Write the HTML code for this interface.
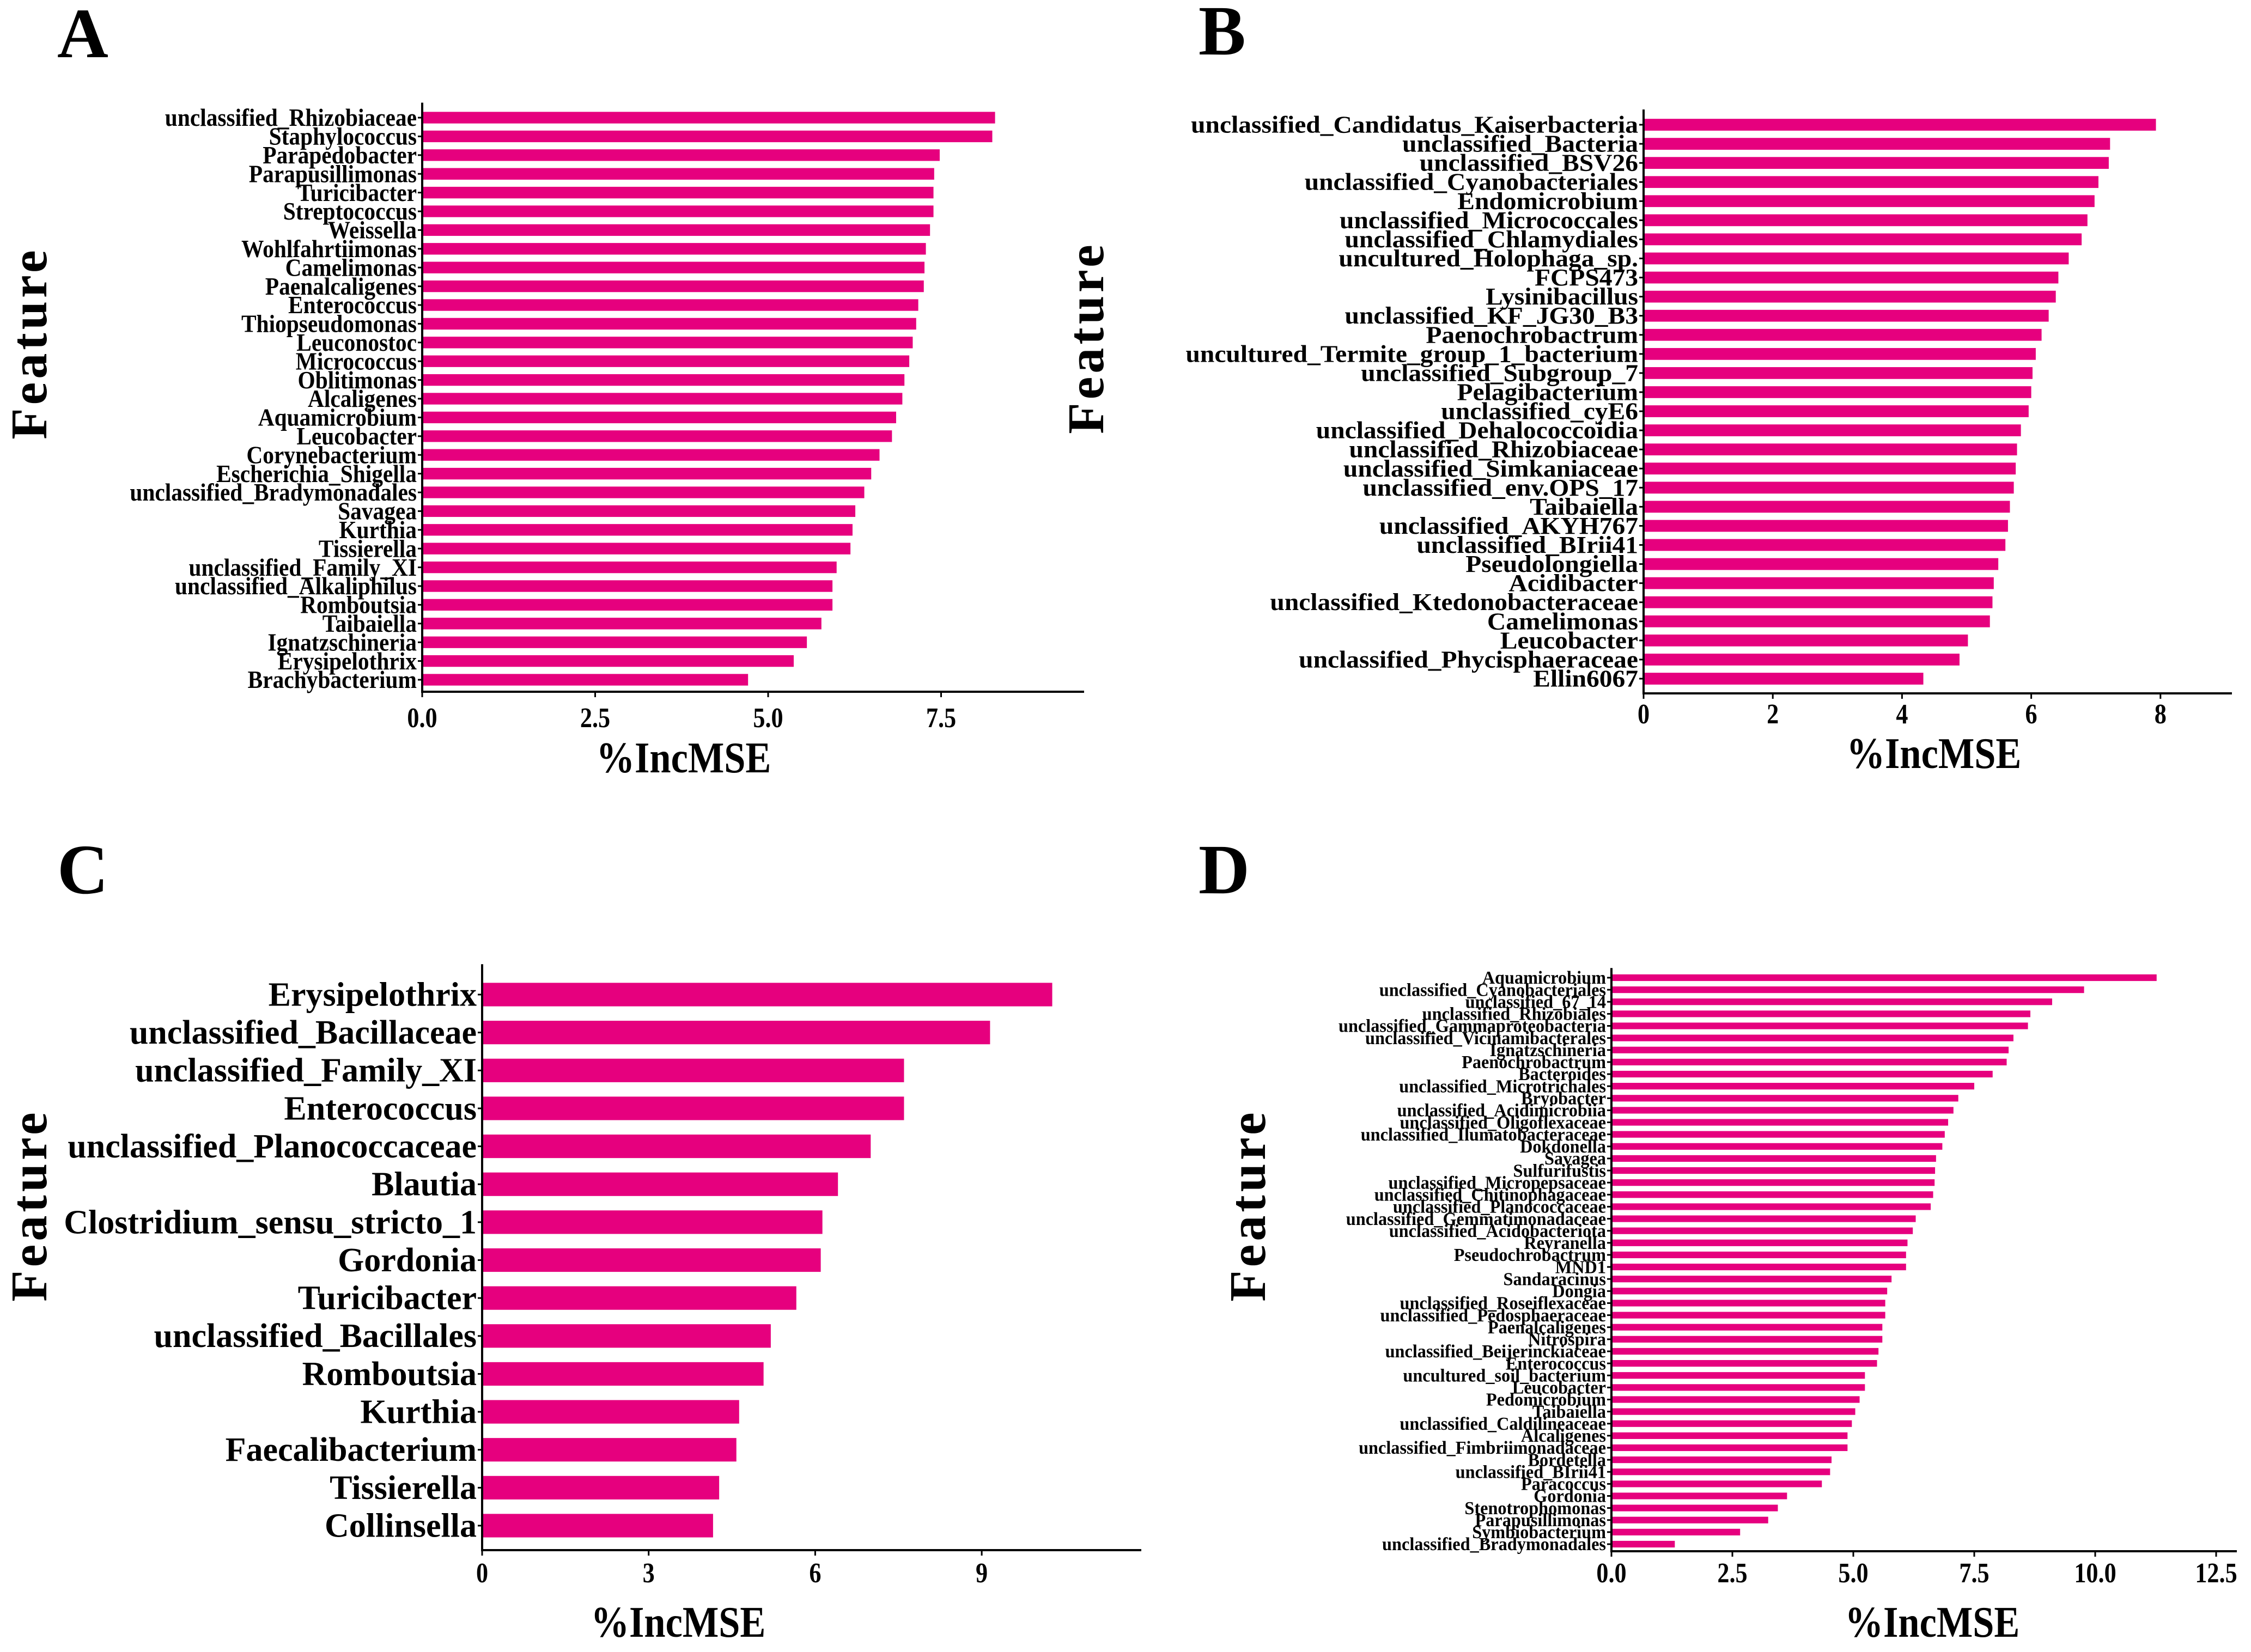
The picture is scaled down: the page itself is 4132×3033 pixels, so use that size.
<!DOCTYPE html>
<html><head><meta charset="utf-8"><style>
html,body{margin:0;padding:0;background:#fff}
svg{display:block}
text{font-family:"Liberation Serif",serif;font-weight:bold;fill:#000}
</style></head><body>
<svg id="s" width="4132" height="3033" viewBox="0 0 4132 3033" xmlns="http://www.w3.org/2000/svg"></svg>
<script>
const labelsA=["unclassified_Rhizobiaceae","Staphylococcus","Parapedobacter","Parapusillimonas","Turicibacter","Streptococcus","Weissella","Wohlfahrtiimonas","Camelimonas","Paenalcaligenes","Enterococcus","Thiopseudomonas","Leuconostoc","Micrococcus","Oblitimonas","Alcaligenes","Aquamicrobium","Leucobacter","Corynebacterium","Escherichia_Shigella","unclassified_Bradymonadales","Savagea","Kurthia","Tissierella","unclassified_Family_XI","unclassified_Alkaliphilus","Romboutsia","Taibaiella","Ignatzschineria","Erysipelothrix","Brachybacterium"];
const valuesA=[8.28,8.24,7.48,7.4,7.39,7.39,7.34,7.28,7.26,7.25,7.17,7.14,7.09,7.04,6.97,6.94,6.85,6.79,6.61,6.49,6.39,6.26,6.22,6.19,5.99,5.93,5.93,5.77,5.56,5.37,4.71];
const ticksA=[0,2.5,5,7.5];
const tickLabelsA=["0.0","2.5","5.0","7.5"];
const labelsB=["unclassified_Candidatus_Kaiserbacteria","unclassified_Bacteria","unclassified_BSV26","unclassified_Cyanobacteriales","Endomicrobium","unclassified_Micrococcales","unclassified_Chlamydiales","uncultured_Holophaga_sp.","FCPS473","Lysinibacillus","unclassified_KF_JG30_B3","Paenochrobactrum","uncultured_Termite_group_1_bacterium","unclassified_Subgroup_7","Pelagibacterium","unclassified_cyE6","unclassified_Dehalococcoidia","unclassified_Rhizobiaceae","unclassified_Simkaniaceae","unclassified_env.OPS_17","Taibaiella","unclassified_AKYH767","unclassified_BIrii41","Pseudolongiella","Acidibacter","unclassified_Ktedonobacteraceae","Camelimonas","Leucobacter","unclassified_Phycisphaeraceae","Ellin6067"];
const valuesB=[7.93,7.22,7.2,7.04,6.98,6.87,6.78,6.58,6.42,6.38,6.27,6.16,6.07,6.02,6.0,5.96,5.84,5.78,5.76,5.73,5.67,5.64,5.6,5.49,5.42,5.4,5.36,5.02,4.89,4.33];
const ticksB=[0,2,4,6,8];
const tickLabelsB=["0","2","4","6","8"];
const labelsC=["Erysipelothrix","unclassified_Bacillaceae","unclassified_Family_XI","Enterococcus","unclassified_Planococcaceae","Blautia","Clostridium_sensu_stricto_1","Gordonia","Turicibacter","unclassified_Bacillales","Romboutsia","Kurthia","Faecalibacterium","Tissierella","Collinsella"];
const valuesC=[10.27,9.15,7.6,7.6,7.0,6.41,6.13,6.1,5.66,5.2,5.07,4.63,4.58,4.27,4.16];
const ticksC=[0,3,6,9];
const tickLabelsC=["0","3","6","9"];
const labelsD=["Aquamicrobium","unclassified_Cyanobacteriales","unclassified_67_14","unclassified_Rhizobiales","unclassified_Gammaproteobacteria","unclassified_Vicinamibacterales","Ignatzschineria","Paenochrobactrum","Bacteroides","unclassified_Microtrichales","Bryobacter","unclassified_Acidimicrobiia","unclassified_Oligoflexaceae","unclassified_Ilumatobacteraceae","Dokdonella","Savagea","Sulfurifustis","unclassified_Micropepsaceae","unclassified_Chitinophagaceae","unclassified_Planococcaceae","unclassified_Gemmatimonadaceae","unclassified_Acidobacteriota","Reyranella","Pseudochrobactrum","MND1","Sandaracinus","Dongia","unclassified_Roseiflexaceae","unclassified_Pedosphaeraceae","Paenalcaligenes","Nitrospira","unclassified_Beijerinckiaceae","Enterococcus","uncultured_soil_bacterium","Leucobacter","Pedomicrobium","Taibaiella","unclassified_Caldilineaceae","Alcaligenes","unclassified_Fimbriimonadaceae","Bordetella","unclassified_BIrii41","Paracoccus","Gordonia","Stenotrophomonas","Parapusillimonas","Symbiobacterium","unclassified_Bradymonadales"];
const valuesD=[11.27,9.77,9.11,8.66,8.61,8.31,8.21,8.17,7.88,7.5,7.17,7.07,6.96,6.89,6.84,6.71,6.69,6.68,6.65,6.6,6.29,6.23,6.12,6.09,6.09,5.79,5.7,5.66,5.66,5.6,5.6,5.52,5.49,5.24,5.24,5.13,5.04,4.97,4.88,4.88,4.55,4.52,4.35,3.63,3.44,3.24,2.66,1.31];
const ticksD=[0,2.5,5,7.5,10,12.5];
const tickLabelsD=["0.0","2.5","5.0","7.5","10.0","12.5"];

const NS="http://www.w3.org/2000/svg";
const svg=document.getElementById('s');
function mk(tag,attrs,parent,txt){const e=document.createElementNS(NS,tag);for(const k in attrs)e.setAttribute(k,attrs[k]);if(txt!==undefined)e.textContent=txt;(parent||svg).appendChild(e);return e;}

function panel(id,labels,values,ticks,tickLabels,c){
  const g=mk('g',{});
  
  
  const x=v=>c.x0+v*c.unit;
  const n=labels.length;
  const y=i=>c.y1+(c.y2-c.y1)*i/(n-1);
  const step=(c.y2-c.y1)/(n-1);
  const bh=step*c.bf;
  const L=mk('text',{x:c.lx,y:c.ly,'font-size':c.lf},g,id);
  
  
  for(let i=0;i<n;i++){
    const r=mk('rect',{x:x(0),y:y(i)-bh/2,width:Math.max(0,x(values[i])-x(0)),height:bh,fill:'#e6007e'},g);
    
    
    mk('line',{x1:x(0)-8,x2:x(0),y1:y(i),y2:y(i),stroke:'#000','stroke-width':3},g);
    const t=mk('text',{'text-anchor':'end','font-size':c.fs,transform:`translate(${x(0)-10},${y(i)+c.fs*0.33}) scale(${c.sx},1)`},g,labels[i]);
    
    
  }
  const ya=mk('line',{x1:x(0),x2:x(0),y1:c.y1-step*0.8,y2:c.ay,stroke:'#000','stroke-width':4},g);
  
  
  const xa=mk('line',{x1:x(0)-2,x2:c.xe,y1:c.ay,y2:c.ay,stroke:'#000','stroke-width':4},g);
  
  
  ticks.forEach((v,i)=>{
    mk('line',{x1:x(v),x2:x(v),y1:c.ay,y2:c.ay+10,stroke:'#000','stroke-width':3},g);
    const t=mk('text',{'text-anchor':'middle','font-size':c.tf,transform:`translate(${x(v)},${c.ty}) scale(0.85,1)`},g,tickLabels[i]);
    
    
  });
  const xt=mk('text',{'text-anchor':'middle','font-size':80,transform:`translate(${c.tx},${c.tyy}) scale(0.88,1)`},g,'%IncMSE');
  
  
  const ft=mk('text',{'text-anchor':'middle','font-size':94,'letter-spacing':6,transform:`translate(${c.fx},${c.fy}) rotate(-90)`},g,'Feature');
  
  
}
panel('A',labelsA,valuesA,ticksA,tickLabelsA,{x0:775,unit:127,y1:216,y2:1248,ay:1270,xe:1990,bf:0.62,fs:46,sx:0.9,tf:52,ty:1335,tx:1255,tyy:1418,fx:85,fy:630,lx:105,ly:105,lf:130});
panel('B',labelsB,valuesB,ticksB,tickLabelsB,{x0:3017,unit:118.6,y1:229,y2:1246,ay:1273,xe:4097,bf:0.62,fs:44,sx:1.08,tf:52,ty:1328,tx:3550,tyy:1410,fx:2025,fy:620,lx:2200,ly:100,lf:130});
panel('C',labelsC,valuesC,ticksC,tickLabelsC,{x0:885,unit:101.9,y1:1826,y2:2801,ay:2846,xe:2095,bf:0.62,fs:62,sx:1,tf:52,ty:2905,tx:1245,tyy:3005,fx:85,fy:2213,lx:105,ly:1640,lf:130});
panel('D',labelsD,valuesD,ticksD,tickLabelsD,{x0:2958,unit:88.8,y1:1795,y2:2835,ay:2848,xe:4106,bf:0.55,fs:34,sx:0.95,tf:52,ty:2905,tx:3547,tyy:3005,fx:2322,fy:2213,lx:2200,ly:1640,lf:130});
</script>
</body></html>
